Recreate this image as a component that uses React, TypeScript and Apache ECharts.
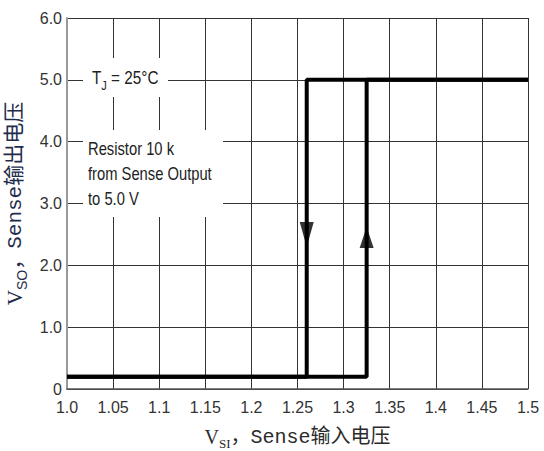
import React, { useEffect, useRef } from "react";
import * as echarts from "echarts";

const xTickLabels = ["1.0", "1.05", "1.1", "1.15", "1.2", "1.25", "1.3", "1.35", "1.4", "1.45", "1.5"];
const yTickLabels = ["0", "1.0", "2.0", "3.0", "4.0", "5.0", "6.0"];

// rising path (low -> high at ~1.325 V)
const risingPath: [number, number][] = [
  [1.0, 0.2],
  [1.325, 0.2],
  [1.325, 5.0],
  [1.5, 5.0],
];
// falling path (high -> low at ~1.26 V)
const fallingPath: [number, number][] = [
  [1.5, 5.0],
  [1.26, 5.0],
  [1.26, 0.2],
  [1.0, 0.2],
];
const downArrow: [number, number][] = [[1.26, 2.5]];
const upArrow: [number, number][] = [[1.325, 2.45]];

const tickFont = "'Liberation Sans', Arial, sans-serif";

export default function App() {
  const ref = useRef<HTMLDivElement>(null);
  useEffect(() => {
    if (!ref.current) return;
    const chart = echarts.init(ref.current, null, { renderer: "svg" });
    const gridLine = { show: true, lineStyle: { color: "#333", width: 1 } };
    chart.setOption({
      animation: false,
      backgroundColor: "#fff",
      grid: { left: 67, right: 16, top: 18, bottom: 62, containLabel: false, outerBoundsMode: "none" },
      xAxis: {
        type: "value",
        min: 1.0,
        max: 1.5,
        interval: 0.05,
        name: "{v|V}{s|SI}{t|，Sense输入电压}",
        nameLocation: "middle",
        nameGap: 38,
        nameTextStyle: {
          rich: {
            v: { fontFamily: "'Liberation Serif', serif", fontSize: 20, color: "#2b2b2b" },
            s: { fontFamily: "'Liberation Serif', serif", fontSize: 13, color: "#2b2b2b", verticalAlign: "bottom", padding: [0, 0, -3, 0] },
            t: { fontFamily: "'Liberation Mono', 'Noto Sans CJK SC', monospace", fontSize: 20, color: "#2b2b2b" },
          },
        },
        axisLine: { show: true, lineStyle: { color: "#555", width: 1.5 } },
        axisTick: { show: false },
        splitLine: gridLine,
        axisLabel: {
          margin: 10,
          fontFamily: tickFont,
          fontSize: 16,
          color: "#333",
          formatter: (v: number) => xTickLabels[Math.round((v - 1.0) / 0.05)] ?? "",
        },
      },
      yAxis: {
        type: "value",
        min: 0,
        max: 6,
        interval: 1,
        name: "{v|V}{s|SO}{t|，Sense输出电压}",
        nameLocation: "middle",
        nameGap: 36,
        nameTextStyle: {
          rich: {
            v: { fontFamily: "'Liberation Serif', serif", fontSize: 21, color: "#1f2d4d" },
            s: { fontFamily: "'Liberation Sans', sans-serif", fontSize: 14, color: "#1f2d4d", verticalAlign: "bottom", padding: [0, 0, -3, 0] },
            t: { fontFamily: "'Liberation Mono', 'Noto Sans CJK SC', monospace", fontSize: 21, color: "#1f2d4d" },
          },
        },
        axisLine: { show: true, lineStyle: { color: "#999", width: 2 } },
        axisTick: { show: false },
        splitLine: gridLine,
        axisLabel: {
          margin: 5,
          fontFamily: tickFont,
          fontSize: 16,
          color: "#333",
          formatter: (v: number) => yTickLabels[Math.round(v)] ?? "",
        },
      },
      graphic: {
        elements: [
          { type: "rect", z: 5, shape: { x: 83, y: 58, width: 85, height: 39 }, style: { fill: "#fff" } },
          {
            type: "text",
            z: 6,
            x: 92,
            y: 78,
            scaleX: 0.85,
            style: {
              text: "{a|T}{b|J}{a| = 25°C}",
              verticalAlign: "middle",
              rich: {
                a: { fontFamily: tickFont, fontSize: 18, fill: "#222" },
                b: { fontFamily: tickFont, fontSize: 13, fill: "#222", verticalAlign: "bottom", padding: [0, 0, -5, 0] },
              },
            },
          },
          { type: "rect", z: 5, shape: { x: 83, y: 130, width: 140, height: 87 }, style: { fill: "#fff" } },
          {
            type: "text",
            z: 6,
            x: 88,
            y: 136,
            scaleX: 0.82,
            style: {
              text: "Resistor 10 k\nfrom Sense Output\nto 5.0 V",
              fontFamily: tickFont,
              fontSize: 18,
              lineHeight: 25,
              fill: "#222",
            },
          },
        ],
      },
      series: [
        {
          type: "line",
          data: risingPath,
          showSymbol: false,
          z: 10,
          lineStyle: { color: "#000", width: 4 },
        },
        {
          type: "line",
          data: fallingPath,
          showSymbol: false,
          z: 10,
          lineStyle: { color: "#000", width: 4 },
        },
        {
          type: "scatter",
          data: downArrow,
          symbol: "triangle",
          symbolRotate: 180,
          symbolSize: [14, 25],
          z: 11,
          itemStyle: { color: "#000" },
        },
        {
          type: "scatter",
          data: upArrow,
          symbol: "triangle",
          symbolSize: [14, 21],
          z: 11,
          itemStyle: { color: "#000" },
        },
      ],
    });
    return () => chart.dispose();
  }, []);
  return <div ref={ref} style={{ position: "absolute", left: 0, top: 0, width: 544, height: 451 }} />;
}
